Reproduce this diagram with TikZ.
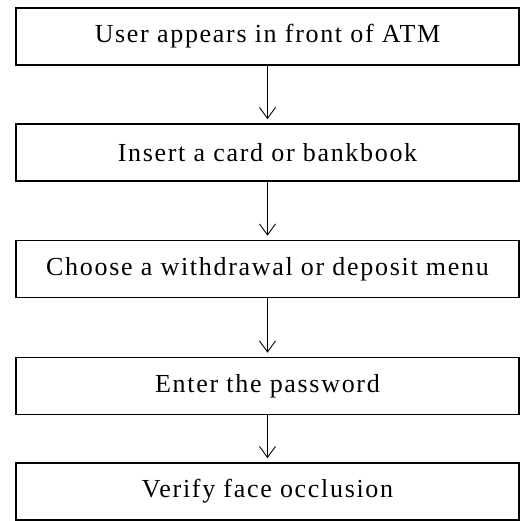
\documentclass[tikz,border=0pt]{standalone}
\usepackage{fontspec}
\setmainfont{Liberation Serif}[LetterSpace=6.5]
\usetikzlibrary{arrows.meta}
\begin{document}
\begin{tikzpicture}[x=1pt,y=-1pt]
\useasboundingbox (0,0) rectangle (525,521);
\tikzset{
  stepbox/.style={draw, line width=1.6pt, minimum width=503pt, minimum height=57pt, inner sep=0pt, font=\fontsize{26}{29}\selectfont},
  flow/.style={-{Straight Barb[length=11pt,width=16pt]}, line width=0.9pt}
}
\node[stepbox] (b1) at (267.5,36.5) {User appears in front of ATM};
\node[stepbox] (b2) at (267.5,152.5) {Insert a card or bankbook};
\node[stepbox] (b3) at (267.5,269) {Choose a withdrawal or deposit menu};
\node[stepbox] (b4) at (267.5,386) {Enter the password};
\node[stepbox] (b5) at (267.5,491.5) {Verify face occlusion};
\draw[flow] (b1.south) -- ([yshift=4pt]b2.north);
\draw[flow] (b2.south) -- ([yshift=4pt]b3.north);
\draw[flow] (b3.south) -- ([yshift=4pt]b4.north);
\draw[flow] (b4.south) -- ([yshift=4pt]b5.north);
\end{tikzpicture}
\end{document}
